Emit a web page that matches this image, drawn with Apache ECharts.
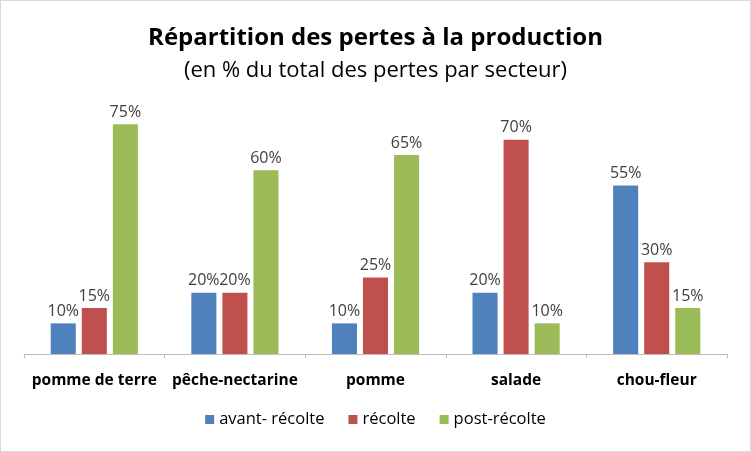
<!DOCTYPE html>
<html><head><meta charset="utf-8">
<script src="https://cdn.jsdelivr.net/npm/echarts@6/dist/echarts.min.js"></script>
<style>html,body{margin:0;padding:0;background:#fff}#c{width:749px;height:450px;border:1px solid #d9d9d9}</style>
</head><body><div id="c"></div>
<script>
const categories = ['pomme de terre', 'pêche-nectarine', 'pomme', 'salade', 'chou-fleur'];
const seriesNames = ['avant- récolte', 'récolte', 'post-récolte'];
const avantRecolte = [10, 20, 10, 20, 55];
const recolte = [15, 20, 25, 70, 30];
const postRecolte = [75, 60, 65, 10, 15];
const colors = ['#4f81bd', '#c0504d', '#9bbb59'];
const FONT = '"Open Sans", sans-serif';
const chart = echarts.init(document.getElementById('c'));
const data = [avantRecolte, recolte, postRecolte];
chart.setOption({
  animation: false,
  title: [
    {text: 'Répartition des pertes à la production', left: 'center', top: 20,
     textStyle: {fontFamily: FONT, fontSize: 24, fontWeight: 'bold', color: '#000'}},
    {text: '(en % du total des pertes par secteur)', left: 'center', top: 54,
     textStyle: {fontFamily: FONT, fontSize: 22, fontWeight: 'normal', color: '#000'}}
  ],
  legend: {bottom: 18, left: 'center', itemWidth: 9, itemHeight: 9, itemGap: 24,
    icon: 'rect', textStyle: {fontFamily: FONT, fontSize: 16.5, color: '#000'},
    data: seriesNames},
  grid: {left: 23, right: 23, top: 108, bottom: 97, containLabel: false},
  xAxis: {type: 'category', data: categories,
    axisLine: {lineStyle: {color: '#bfbfbf'}},
    axisTick: {show: true, length: 4, lineStyle: {color: '#bfbfbf'}},
    axisLabel: {interval: 0, fontFamily: FONT, fontSize: 15.5, fontWeight: 'bold', color: '#000', margin: 19}},
  yAxis: {type: 'value', min: 0, max: 80, interval: 10, show: false, splitLine: {show: false}},
  series: data.map((d, i) => ({
    name: seriesNames[i], type: 'bar', data: d, barGap: '24%', barCategoryGap: '38%',
    itemStyle: {color: colors[i]},
    label: {show: true, position: 'top', distance: 4, formatter: '{c}%',
      fontFamily: FONT, fontSize: 16, color: '#404040'}
  }))
});
</script></body></html>
